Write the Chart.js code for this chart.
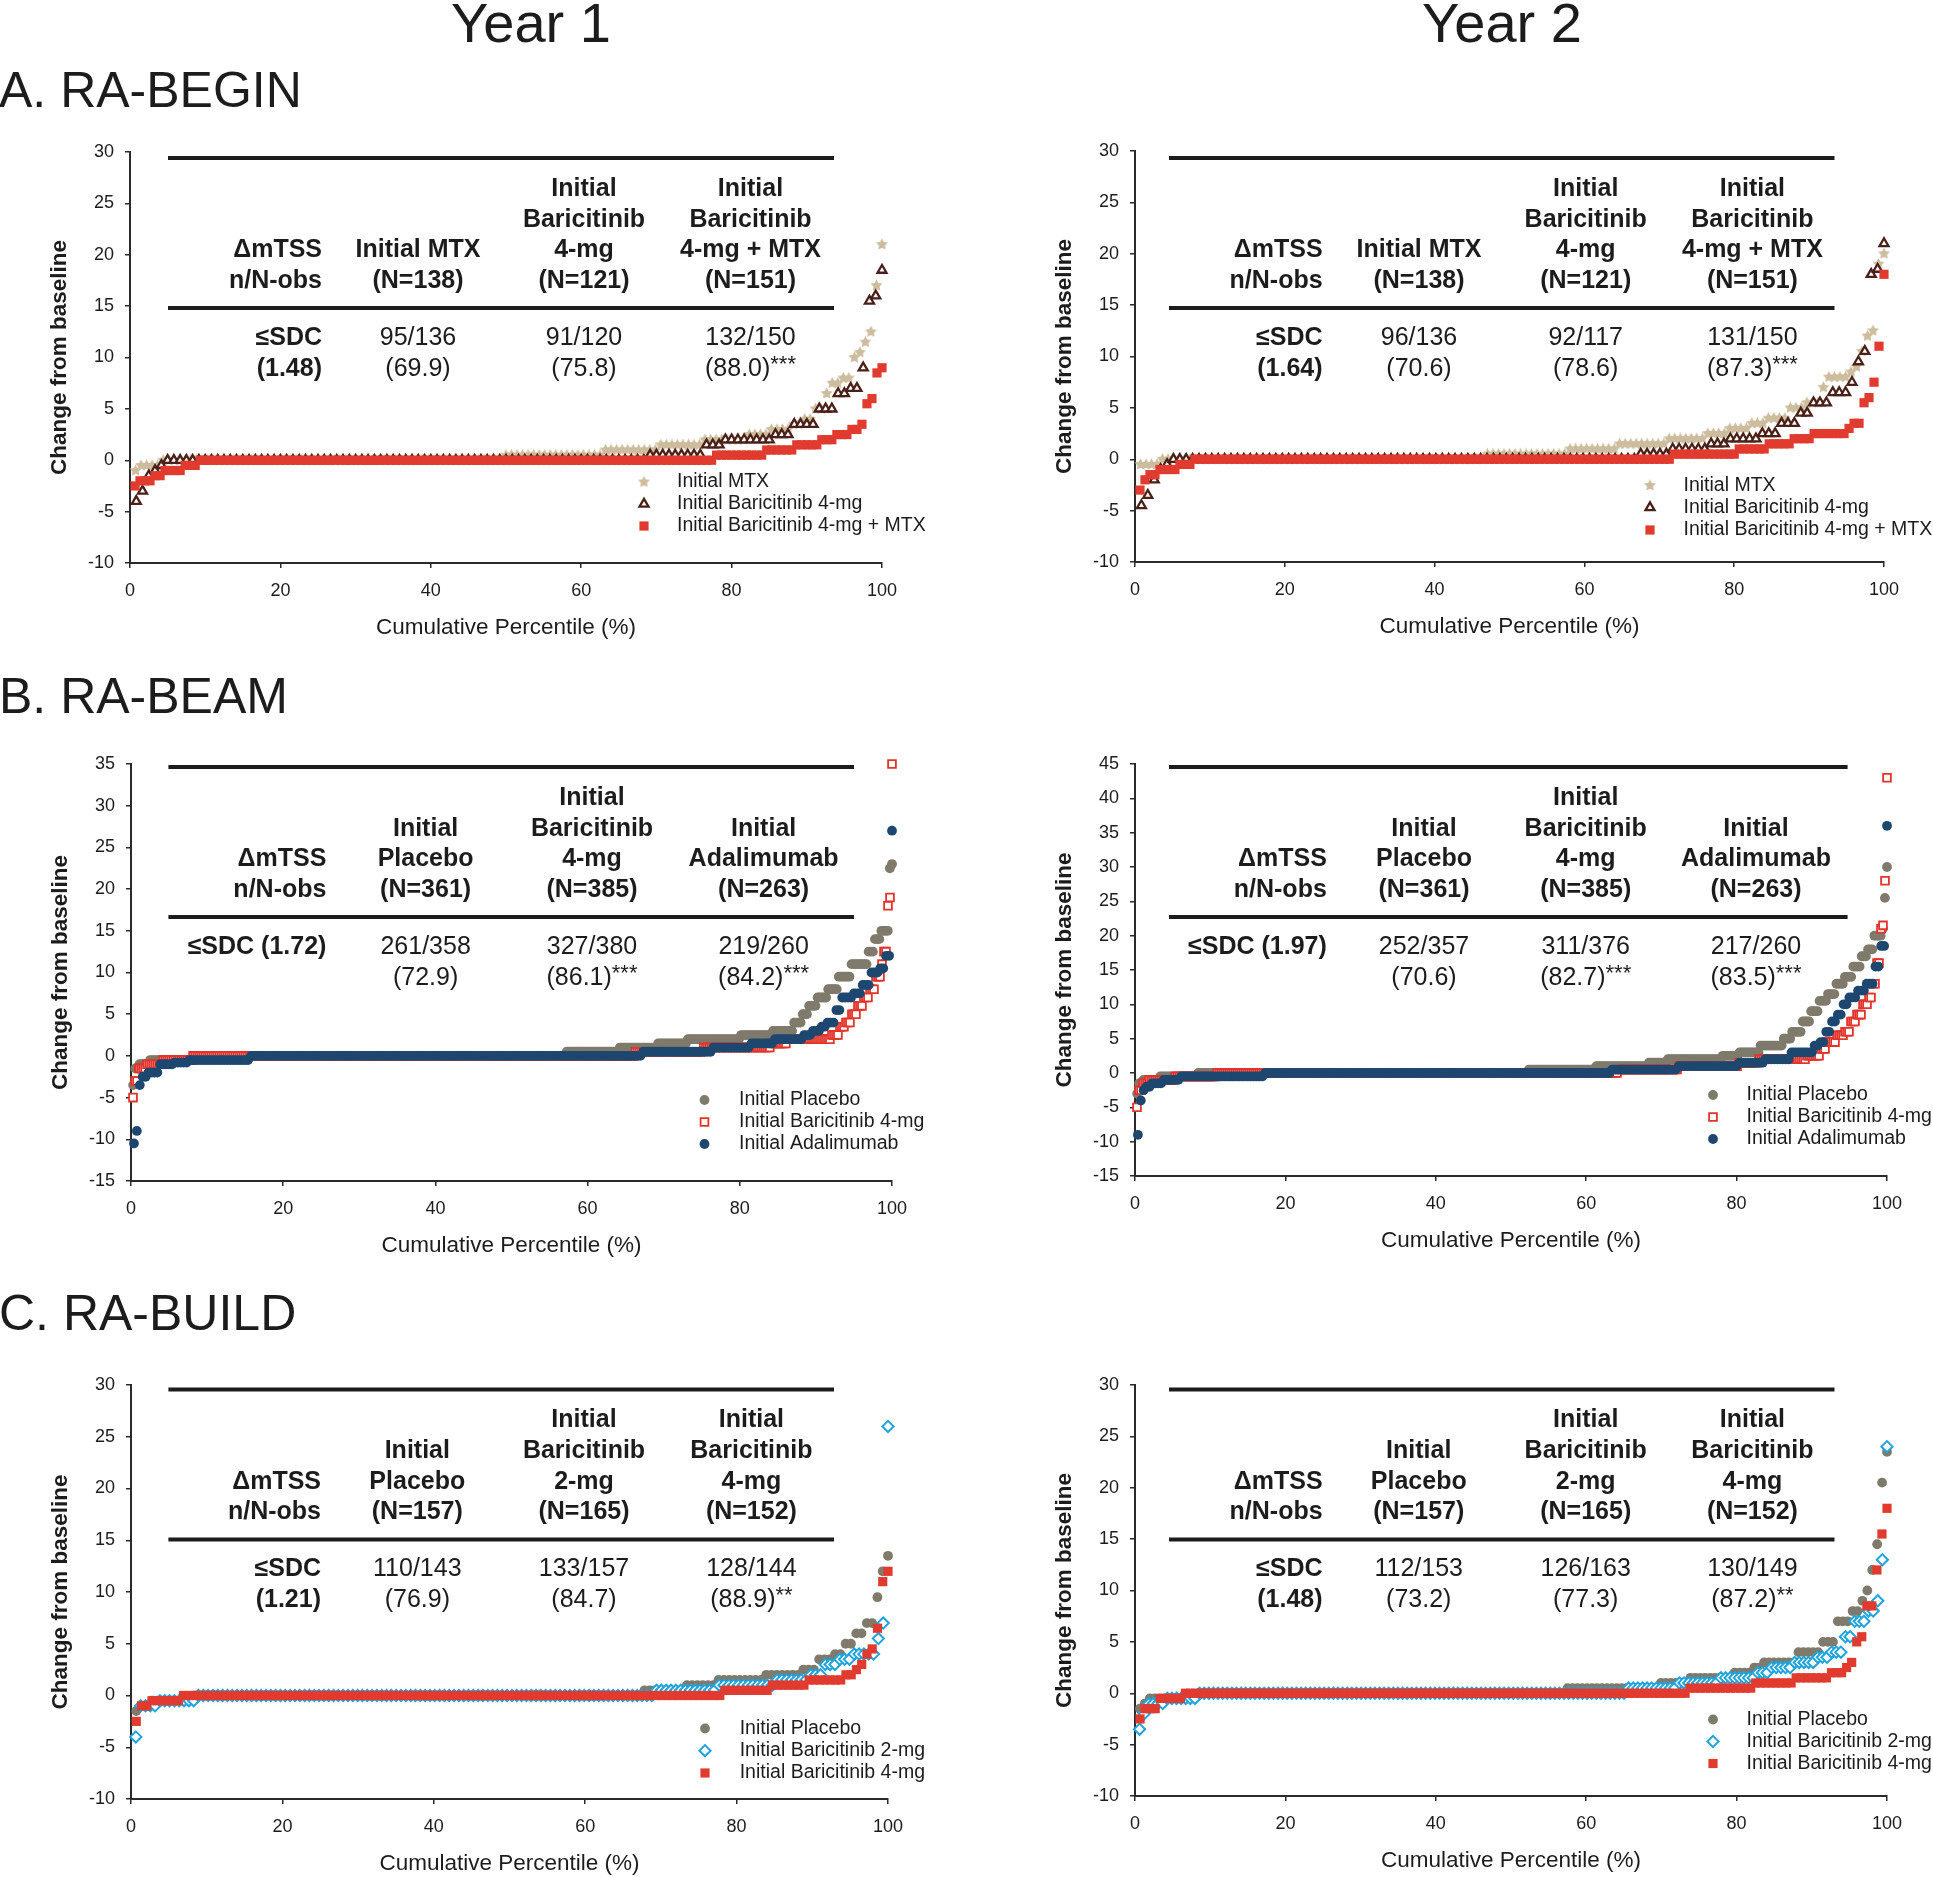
<!DOCTYPE html>
<html>
<head>
<meta charset="utf-8">
<script src="https://cdn.jsdelivr.net/npm/chart.js@4.4.1/dist/chart.umd.min.js"></script>
<style>
  body { margin: 0; background: #fff; width: 1933px; height: 1877px; position: relative; overflow: hidden;
         font-family: "Liberation Sans", Arial, sans-serif; color: #1c1c1c; }
  .head { position: absolute; white-space: nowrap; }
  .year { font-size: 56px; line-height: 56px; width: 400px; text-align: center; top: -5px; }
  .study { font-size: 50px; line-height: 50px; left: -1px; }
  canvas { position: absolute; }
</style>
</head>
<body>
<div class="head year" style="left:331px">Year 1</div>
<div class="head year" style="left:1302px">Year 2</div>
<div class="head study" style="top:65px">A. RA-BEGIN</div>
<div class="head study" style="top:671px">B. RA-BEAM</div>
<div class="head study" style="top:1288px">C. RA-BUILD</div>
<script>
// Each curve is kept as runs of [change from baseline, number of patients],
// lowest change first. A point's x is its rank / N-obs.

// RA-BEGIN
const a1Mtx = [[-1,1],[-0.5,4],[0,62],[0.5,18],[1,10],[1.5,8],[2,8],[2.5,4],[3,4],[3.5,2],[4,2],[5,2],[6.5,1],[7.5,2],[8,2],[10,1],[10.5,1],[11.5,1],[12.5,1],[17,1],[21,1]];
const a1Bari = [[-4,1],[-3,1],[-1.5,1],[-1,1],[-0.5,1],[0,77],[0.5,9],[1.5,3],[2,8],[2.5,3],[3.5,4],[5,3],[6.5,2],[7,2],[9,1],[15.5,1],[16,1],[18.5,1]];
const a1Combo = [[-2.5,1],[-2,3],[-1.5,2],[-1,4],[-0.5,3],[0,103],[0.5,10],[1,6],[1.5,5],[2,3],[2.5,3],[3,2],[3.5,1],[5.5,1],[6,1],[8.5,1],[9,1]];
const a2Mtx = [[-0.5,4],[0,59],[0.5,15],[1,9],[1.5,9],[2,7],[2.5,4],[3,4],[3.5,3],[4,4],[5,3],[5.5,3],[7,1],[8,4],[8.5,1],[9,1],[10.5,1],[12,1],[12.5,1],[19,1],[20,1]];
const a2Bari = [[-4.5,1],[-3.5,1],[-2,1],[-1,1],[-0.5,1],[0,73],[0.5,5],[1,6],[1.5,3],[2,5],[2.5,3],[3.5,3],[4.5,2],[5.5,3],[6.5,3],[7.5,1],[9.5,1],[10.5,1],[18,1],[18.5,1],[21,1]];
const a2Combo = [[-3,1],[-2,1],[-1.5,2],[-1,4],[-0.5,3],[0,96],[0.5,13],[1,6],[1.5,5],[2,4],[2.5,7],[3,1],[3.5,2],[5.5,1],[6,1],[7.5,1],[11,1],[18,1]];

// RA-BEAM
const b1Pbo = [[-3.5,1],[-1.5,2],[-1,5],[-0.5,22],[0,174],[0.5,25],[1,18],[1.5,14],[2,25],[2.5,15],[3,10],[4,4],[5,3],[6,4],[7,5],[8,5],[9.5,6],[11,8],[12.5,3],[14,3],[15,4],[22.5,1],[23,1]];
const b1Bari = [[-5,1],[-3,2],[-1.5,4],[-1,8],[-0.5,15],[0,221],[0.5,34],[1,34],[1.5,8],[2,22],[2.5,4],[3.5,3],[4,3],[5,3],[6,3],[7,3],[8,3],[9.5,3],[11,1],[12.5,2],[18,1],[19,1],[35,1]];
const b1Ada = [[-10.5,1],[-9,1],[-3.5,1],[-2.5,2],[-2,4],[-1,5],[-0.8,5],[-0.5,21],[0,134],[0.5,24],[1,13],[1.5,8],[2,10],[2.5,3],[3,3],[3.5,2],[4,3],[5.5,2],[7,4],[7.5,3],[8.5,3],[10,3],[10.5,2],[12,2],[27,1]];
const b2Pbo = [[-3,1],[-1.5,2],[-1,8],[-0.5,18],[0,157],[0.5,32],[1,25],[1.5,9],[2,26],[2.5,8],[3,10],[4,11],[5,4],[6,5],[7.5,4],[9,4],[10.5,4],[11.5,4],[13,4],[14,4],[15.5,4],[17,3],[18,3],[20,4],[21,1],[25.5,1],[30,1]];
const b2Bari = [[-5,1],[-2.5,2],[-1.5,3],[-1,13],[-0.5,21],[0,201],[0.5,30],[1,30],[1.5,10],[2,24],[2.5,7],[3.5,3],[4.5,5],[5.5,4],[6,3],[7.5,3],[8.5,3],[10,3],[11,2],[13,2],[16,2],[21,1],[21.5,1],[28,1],[43,1]];
const b2Ada = [[-9,1],[-4,1],[-2.5,1],[-2,2],[-1.5,4],[-1,6],[-0.5,29],[0,120],[0.5,23],[1,21],[1.5,9],[2,9],[3,8],[4,2],[4.5,2],[6,2],[7.5,2],[8.5,2],[10,2],[11,3],[12,3],[13,3],[15.5,2],[18.5,2],[36,1]];

// RA-BUILD
const c1Pbo = [[-1.5,1],[-1,2],[-0.5,8],[0,85],[0.5,8],[1,6],[1.5,9],[2,7],[2.5,3],[3.5,3],[4,2],[5,2],[6,2],[7,2],[9.5,1],[12,1],[13.5,1]];
const c1Bari2 = [[-4,1],[-1,4],[-0.5,8],[0,95],[0.5,13],[1,12],[1.5,7],[2,3],[3,3],[3.5,3],[4,5],[5.5,1],[7,1],[26,1]];
const c1Bari4 = [[-2.5,1],[-1,2],[-0.5,6],[0,103],[0.5,9],[1,7],[1.5,7],[2,2],[2.5,1],[3,1],[4,1],[4.5,1],[6.5,1],[11,1],[12,1]];
const c2Pbo = [[-1.5,1],[-1,1],[-0.5,10],[0,75],[0.5,19],[1,6],[1.5,9],[2,4],[2.5,2],[3,7],[4,5],[5,3],[7,3],[8,2],[9,1],[10,1],[12,1],[14.5,1],[20.5,1],[23.5,1]];
const c2Bari2 = [[-3.5,1],[-2,1],[-1,4],[-0.5,7],[0,93],[0.5,11],[1,9],[1.5,8],[2,3],[2.5,5],[3,5],[3.5,3],[4,3],[5.5,2],[7,3],[8,2],[9,1],[13,1],[24,1]];
const c2Bari4 = [[-2.5,1],[-1.5,3],[-0.5,5],[0,100],[0.5,13],[1,8],[1.5,7],[2,3],[2.5,1],[3,1],[5,1],[5.5,1],[8.5,2],[12,1],[15.5,1],[18,1]];

// axis ranges and titles
const yRangeA = [-10, 30];
const yRangeB1 = [-15, 35];
const yRangeB2 = [-15, 45];
const yRangeC = [-10, 30];
const xTitle = "Cumulative Percentile (%)";
const yTitle = "Change from baseline";

// legend names
const legendA = ["Initial MTX", "Initial Baricitinib 4-mg", "Initial Baricitinib 4-mg + MTX"];
const legendB = ["Initial Placebo", "Initial Baricitinib 4-mg", "Initial Adalimumab"];
const legendC = ["Initial Placebo", "Initial Baricitinib 2-mg", "Initial Baricitinib 4-mg"];

// table text: header lines per column, then the ≤SDC rows per column
const headA = [["ΔmTSS", "n/N-obs"], ["Initial MTX", "(N=138)"], ["Initial", "Baricitinib", "4-mg", "(N=121)"], ["Initial", "Baricitinib", "4-mg + MTX", "(N=151)"]];
const headB = [["ΔmTSS", "n/N-obs"], ["Initial", "Placebo", "(N=361)"], ["Initial", "Baricitinib", "4-mg", "(N=385)"], ["Initial", "Adalimumab", "(N=263)"]];
const headC = [["ΔmTSS", "n/N-obs"], ["Initial", "Placebo", "(N=157)"], ["Initial", "Baricitinib", "2-mg", "(N=165)"], ["Initial", "Baricitinib", "4-mg", "(N=152)"]];
const sdcA1 = [["≤SDC", "(1.48)"], ["95/136", "(69.9)"], ["91/120", "(75.8)"], ["132/150", "(88.0)***"]];
const sdcA2 = [["≤SDC", "(1.64)"], ["96/136", "(70.6)"], ["92/117", "(78.6)"], ["131/150", "(87.3)***"]];
const sdcB1 = [["≤SDC (1.72)"], ["261/358", "(72.9)"], ["327/380", "(86.1)***"], ["219/260", "(84.2)***"]];
const sdcB2 = [["≤SDC (1.97)"], ["252/357", "(70.6)"], ["311/376", "(82.7)***"], ["217/260", "(83.5)***"]];
const sdcC1 = [["≤SDC", "(1.21)"], ["110/143", "(76.9)"], ["133/157", "(84.7)"], ["128/144", "(88.9)**"]];
const sdcC2 = [["≤SDC", "(1.48)"], ["112/153", "(73.2)"], ["126/163", "(77.3)"], ["130/149", "(87.2)**"]];

const FONT = '"Liberation Sans", Arial, sans-serif';
const INK = "#1c1c1c";
const AXIS = "#2a2a2a";
Chart.defaults.font.family = FONT;
Chart.defaults.color = INK;

// filled five point star, used as an image point style
function starImage(color, r) {
  const c = document.createElement("canvas");
  const s = Math.ceil(r * 2 + 2);
  c.width = s;
  c.height = s;
  const g = c.getContext("2d");
  g.fillStyle = color;
  g.beginPath();
  for (let i = 0; i < 10; i++) {
    const rad = i % 2 ? r * 0.5 : r;
    const a = -Math.PI / 2 + (i * Math.PI) / 5;
    g.lineTo(s / 2 + rad * Math.cos(a), s / 2 + rad * Math.sin(a));
  }
  g.closePath();
  g.fill();
  return c;
}

const styles = {
  mtx: { pointStyle: starImage("#cdbc9d", 6.3), pointRadius: 6, backgroundColor: "#cdbc9d", borderColor: "#cdbc9d", pointBorderWidth: 0 },
  bariTri: { pointStyle: "triangle", pointRadius: 5.2, backgroundColor: "#ffffff", borderColor: "#4a2119", pointBorderWidth: 2.3 },
  redFill: { pointStyle: "rect", pointRadius: 6.5, backgroundColor: "#e13a2f", borderColor: "#e13a2f", pointBorderWidth: 0 },
  placebo: { pointStyle: "circle", pointRadius: 4.9, backgroundColor: "#7f7a6b", borderColor: "#7f7a6b", pointBorderWidth: 0 },
  redOpen: { pointStyle: "rect", pointRadius: 5.5, backgroundColor: "#ffffff", borderColor: "#e3342b", pointBorderWidth: 1.8 },
  ada: { pointStyle: "circle", pointRadius: 4.9, backgroundColor: "#1e4770", borderColor: "#1e4770", pointBorderWidth: 0 },
  cyan: { pointStyle: "rectRot", pointRadius: 5.6, backgroundColor: "#ffffff", borderColor: "#1ea4df", pointBorderWidth: 2 },
};

function toPoints(runs) {
  const n = runs.reduce((s, r) => s + r[1], 0);
  const pts = [];
  runs.forEach(([v, c]) => {
    for (let k = 0; k < c; k++) pts.push({ x: ((pts.length + 1) / n) * 100, y: v });
  });
  return pts;
}

// box = canvas [x, y, w, h]; area = plot area [left, top, right, bottom], page pixels
const panels = [
  { box: [0, 110, 966, 550], area: [130, 152, 882, 563], y: yRangeA,
    series: [[a1Mtx, styles.mtx, 2], [a1Bari, styles.bariTri, 1], [a1Combo, styles.redFill, 0]], names: legendA,
    head: headA, sdc: sdcA1, table: { x0: 168, x1: 834, top: 158, right: 322, cols: [418, 584, 750.5] },
    legend: { mx: 644, tx: 677, rows: [482, 504, 526] } },
  { box: [966, 110, 967, 550], area: [1135, 151, 1884, 562], y: yRangeA,
    series: [[a2Mtx, styles.mtx, 2], [a2Bari, styles.bariTri, 1], [a2Combo, styles.redFill, 0]], names: legendA,
    head: headA, sdc: sdcA2, table: { x0: 1169, x1: 1834.5, top: 158, right: 1322.6, cols: [1419, 1585.7, 1752.4] },
    legend: { mx: 1650, tx: 1683.5, rows: [485.5, 507.5, 530] } },
  { box: [0, 720, 966, 560], area: [131, 764, 892, 1181], y: yRangeB1,
    series: [[b1Pbo, styles.placebo, 2], [b1Bari, styles.redOpen, 1], [b1Ada, styles.ada, 0]], names: legendB,
    head: headB, sdc: sdcB1, table: { x0: 168.4, x1: 854, top: 767, right: 326.4, cols: [425.6, 592, 763.6] },
    legend: { mx: 704.5, tx: 739, rows: [1100, 1122, 1144] } },
  { box: [966, 720, 967, 560], area: [1135, 764, 1887, 1176], y: yRangeB2,
    series: [[b2Pbo, styles.placebo, 2], [b2Bari, styles.redOpen, 1], [b2Ada, styles.ada, 0]], names: legendB,
    head: headB, sdc: sdcB2, table: { x0: 1169, x1: 1847.6, top: 767, right: 1326.8, cols: [1424, 1585.7, 1756] },
    legend: { mx: 1713, tx: 1746.5, rows: [1095, 1117, 1139] } },
  { box: [0, 1330, 966, 547], area: [131, 1385, 888, 1799], y: yRangeC,
    series: [[c1Pbo, styles.placebo, 2], [c1Bari2, styles.cyan, 1], [c1Bari4, styles.redFill, 0]], names: legendC,
    head: headC, sdc: sdcC1, table: { x0: 168.4, x1: 834, top: 1389.4, right: 321, cols: [417.3, 584, 751.4] },
    legend: { mx: 705, tx: 739.7, rows: [1728.5, 1750.7, 1773] } },
  { box: [966, 1330, 967, 547], area: [1135, 1385, 1887, 1796], y: yRangeC,
    series: [[c2Pbo, styles.placebo, 2], [c2Bari2, styles.cyan, 1], [c2Bari4, styles.redFill, 0]], names: legendC,
    head: headC, sdc: sdcC2, table: { x0: 1169, x1: 1834.5, top: 1389.4, right: 1322.6, cols: [1418.75, 1585.7, 1752.4] },
    legend: { mx: 1713, tx: 1746.5, rows: [1719.5, 1741.5, 1763.5] } },
];

const Y_AXIS_W = 84;
const X_AXIS_H = 78;
const HEAD_ROWS = [31, 62, 92.5, 123];
const MID_RULE = 150;
const SDC_ROWS = [180, 211];

// draws "(88.0)***" with the asterisks raised, centred on cx
function centredWithStars(ctx, text, cx, y) {
  const main = text.replace(/\*+$/, "");
  const stars = text.slice(main.length);
  ctx.font = `25px ${FONT}`;
  const wm = ctx.measureText(main).width;
  ctx.font = `22px ${FONT}`;
  const ws = stars ? ctx.measureText(stars).width : 0;
  const x = cx - (wm + ws) / 2;
  ctx.textAlign = "left";
  ctx.font = `25px ${FONT}`;
  ctx.fillText(main, x, y);
  if (stars) {
    ctx.font = `22px ${FONT}`;
    ctx.fillText(stars, x + wm, y - 4);
  }
}

function overlay(p) {
  return {
    id: "overlay",
    afterDraw(chart) {
      const ctx = chart.ctx;
      const ox = p.box[0];
      const oy = p.box[1];
      const t = p.table;
      ctx.save();
      ctx.fillStyle = INK;
      ctx.strokeStyle = INK;
      ctx.lineWidth = 4;
      [0, MID_RULE].forEach((dy) => {
        ctx.beginPath();
        ctx.moveTo(t.x0 - ox, t.top + dy - oy);
        ctx.lineTo(t.x1 - ox, t.top + dy - oy);
        ctx.stroke();
      });
      ctx.textBaseline = "middle";
      p.head.forEach((lines, ci) => {
        lines.forEach((line, j) => {
          const y = t.top + HEAD_ROWS[HEAD_ROWS.length - lines.length + j] - oy;
          ctx.font = `bold 25px ${FONT}`;
          if (ci === 0) {
            ctx.textAlign = "right";
            ctx.fillText(line, t.right - ox, y);
          } else {
            ctx.textAlign = "center";
            ctx.fillText(line, t.cols[ci - 1] - ox, y);
          }
        });
      });
      p.sdc.forEach((lines, ci) => {
        lines.forEach((line, j) => {
          const y = t.top + SDC_ROWS[j] - oy;
          if (ci === 0) {
            ctx.font = `bold 25px ${FONT}`;
            ctx.textAlign = "right";
            ctx.fillText(line, t.right - ox, y);
          } else {
            centredWithStars(ctx, line, t.cols[ci - 1] - ox, y);
          }
        });
      });
      // legend
      const L = p.legend;
      p.series.forEach(([, st], i) => {
        const y = L.rows[i] - oy;
        ctx.fillStyle = st.backgroundColor;
        ctx.strokeStyle = st.borderColor;
        ctx.lineWidth = st.pointBorderWidth;
        Chart.helpers.drawPoint(ctx, { pointStyle: st.pointStyle, radius: st.pointRadius, rotation: 0, borderWidth: st.pointBorderWidth }, L.mx - ox, y);
        ctx.fillStyle = INK;
        ctx.font = `19.5px ${FONT}`;
        ctx.textAlign = "left";
        ctx.fillText(p.names[i], L.tx - ox, y);
      });
      ctx.restore();
    },
  };
}

function axisStyle() {
  return {
    grid: { drawOnChartArea: false, drawTicks: true, tickLength: 5, color: AXIS, lineWidth: 1.5 },
    border: { display: true, color: AXIS, width: 2 },
  };
}

panels.forEach((p) => {
  const [bx, by, bw, bh] = p.box;
  const [left, top, right, bottom] = p.area;
  const canvas = document.createElement("canvas");
  canvas.width = bw;
  canvas.height = bh;
  canvas.style.left = bx + "px";
  canvas.style.top = by + "px";
  canvas.style.width = bw + "px";
  canvas.style.height = bh + "px";
  document.body.appendChild(canvas);

  const datasets = p.series.map(([runs, st, order], i) => ({
    label: p.names[i],
    data: toPoints(runs),
    order: order,
    showLine: false,
    clip: false,
    pointStyle: st.pointStyle,
    pointRadius: st.pointRadius,
    pointBackgroundColor: st.backgroundColor,
    pointBorderColor: st.borderColor,
    pointBorderWidth: st.pointBorderWidth,
    backgroundColor: st.backgroundColor,
    borderColor: st.borderColor,
  }));

  new Chart(canvas, {
    type: "scatter",
    data: { datasets: datasets },
    options: {
      responsive: false,
      animation: false,
      devicePixelRatio: 1,
      events: [],
      layout: {
        padding: {
          left: left - bx - Y_AXIS_W,
          top: top - by,
          right: bx + bw - right,
          bottom: Math.max(0, by + bh - bottom - X_AXIS_H),
        },
      },
      plugins: { legend: { display: false }, tooltip: { enabled: false } },
      scales: {
        x: {
          type: "linear",
          min: 0,
          max: 100,
          ticks: { stepSize: 20, font: { size: 18 }, padding: 12, color: INK, maxRotation: 0 },
          title: { display: true, text: xTitle, font: { size: 22.5 }, padding: 0, color: INK },
          afterFit: (s) => { s.height = X_AXIS_H; },
          ...axisStyle(),
        },
        y: {
          type: "linear",
          min: p.y[0],
          max: p.y[1],
          ticks: { stepSize: 5, font: { size: 18 }, padding: 11, color: INK },
          title: { display: true, text: yTitle, font: { size: 22.5, weight: "bold" }, padding: 0, color: INK },
          afterFit: (s) => { s.width = Y_AXIS_W; },
          ...axisStyle(),
        },
      },
    },
    plugins: [overlay(p)],
  });
});
</script>
</body>
</html>
